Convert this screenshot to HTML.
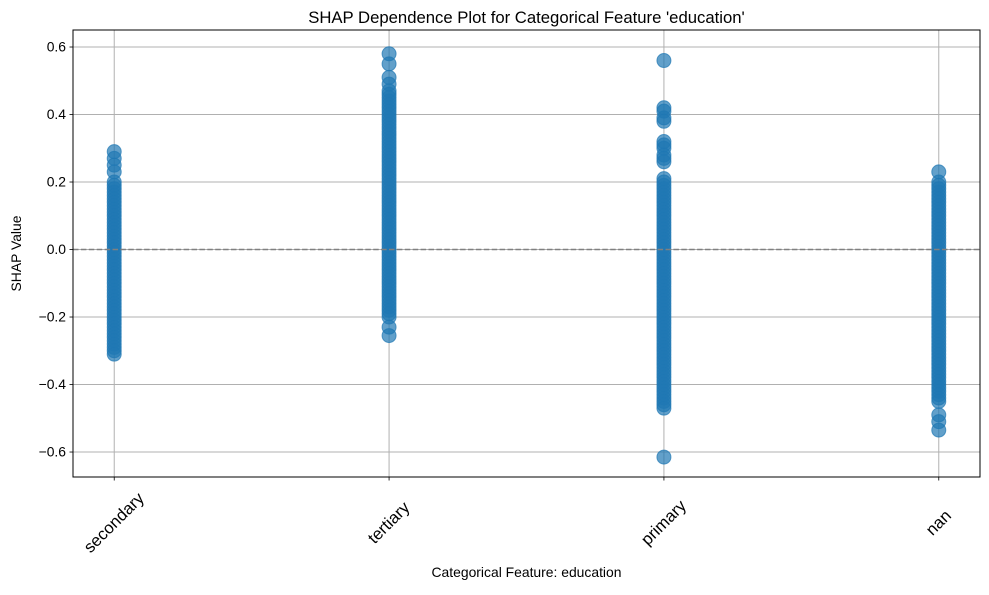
<!DOCTYPE html>
<html><head><meta charset="utf-8"><style>
body{margin:0;background:#fff;}
svg text{font-family:"Liberation Sans","DejaVu Sans",sans-serif;fill:#000;}
</style></head><body>
<svg id="chart" width="989" height="590"></svg>
<script>
const categories = ["secondary","tertiary","primary","nan"];
const secondaryVals = [0.29,0.27,0.25,0.23,0.2,0.19,0.18,0.17,0.16,0.15,0.14,0.13,0.12,0.11,0.1,0.09,0.08,0.07,0.06,0.05,0.04,0.03,0.02,0.01,0,-0.01,-0.02,-0.03,-0.04,-0.05,-0.06,-0.07,-0.08,-0.09,-0.1,-0.11,-0.12,-0.13,-0.14,-0.15,-0.16,-0.17,-0.18,-0.19,-0.2,-0.21,-0.22,-0.23,-0.24,-0.25,-0.26,-0.27,-0.28,-0.29,-0.3,-0.31];
const tertiaryVals = [0.58,0.55,0.51,0.49,0.47,0.46,0.45,0.44,0.43,0.42,0.41,0.4,0.39,0.38,0.37,0.36,0.35,0.34,0.33,0.32,0.31,0.3,0.29,0.28,0.27,0.26,0.25,0.24,0.23,0.22,0.21,0.2,0.19,0.18,0.17,0.16,0.15,0.14,0.13,0.12,0.11,0.1,0.09,0.08,0.07,0.06,0.05,0.04,0.03,0.02,0.01,0,-0.01,-0.02,-0.03,-0.04,-0.05,-0.06,-0.07,-0.08,-0.09,-0.1,-0.11,-0.12,-0.13,-0.14,-0.15,-0.16,-0.17,-0.18,-0.19,-0.2,-0.23,-0.255];
const primaryVals = [0.56,0.42,0.41,0.39,0.38,0.32,0.31,0.3,0.28,0.27,0.26,0.21,0.2,0.19,0.18,0.17,0.16,0.15,0.14,0.13,0.12,0.11,0.1,0.09,0.08,0.07,0.06,0.05,0.04,0.03,0.02,0.01,0,-0.01,-0.02,-0.03,-0.04,-0.05,-0.06,-0.07,-0.08,-0.09,-0.1,-0.11,-0.12,-0.13,-0.14,-0.15,-0.16,-0.17,-0.18,-0.19,-0.2,-0.21,-0.22,-0.23,-0.24,-0.25,-0.26,-0.27,-0.28,-0.29,-0.3,-0.31,-0.32,-0.33,-0.34,-0.35,-0.36,-0.37,-0.38,-0.39,-0.4,-0.41,-0.42,-0.43,-0.44,-0.45,-0.46,-0.47,-0.615];
const nanVals = [0.23,0.2,0.19,0.18,0.17,0.16,0.15,0.14,0.13,0.12,0.11,0.1,0.09,0.08,0.07,0.06,0.05,0.04,0.03,0.02,0.01,0,-0.01,-0.02,-0.03,-0.04,-0.05,-0.06,-0.07,-0.08,-0.09,-0.1,-0.11,-0.12,-0.13,-0.14,-0.15,-0.16,-0.17,-0.18,-0.19,-0.2,-0.21,-0.22,-0.23,-0.24,-0.25,-0.26,-0.27,-0.28,-0.29,-0.3,-0.31,-0.32,-0.33,-0.34,-0.35,-0.36,-0.37,-0.38,-0.39,-0.4,-0.41,-0.42,-0.43,-0.44,-0.45,-0.49,-0.51,-0.535];
const seriesVals = [secondaryVals,tertiaryVals,primaryVals,nanVals];
const yTicks = [-0.6,-0.4,-0.2,0.0,0.2,0.4,0.6];
const yTickLabels = ["\u22120.6","\u22120.4","\u22120.2","0.0","0.2","0.4","0.6"];

const NS="http://www.w3.org/2000/svg";
const svg=document.getElementById('chart');
const L=73,R=980,T=30,B=477;
const xMin=-0.15,xMax=3.15,yMin=-0.674,yMax=0.6504;
const xS=v=>L+(v-xMin)/(xMax-xMin)*(R-L);
const yS=v=>B-(v-yMin)/(yMax-yMin)*(B-T);
function mk(tag,attrs,parent){const e=document.createElementNS(NS,tag);for(const k in attrs)e.setAttribute(k,attrs[k]);(parent||svg).appendChild(e);return e;}

const grid=mk('g',{});


categories.forEach((c,i)=>{mk('line',{x1:xS(i),x2:xS(i),y1:T,y2:B,stroke:'#b0b0b0','stroke-width':1},grid);});
yTicks.forEach(v=>{mk('line',{x1:L,x2:R,y1:yS(v),y2:yS(v),stroke:'#b0b0b0','stroke-width':1},grid);});

const pts=mk('g',{});


seriesVals.forEach((vals,i)=>{vals.forEach(v=>{
  const c=mk('circle',{cx:xS(i),cy:yS(v),r:7,fill:'#1f77b4','fill-opacity':0.7,stroke:'#1f77b4','stroke-opacity':0.7,'stroke-width':1},pts);
  
  
});});

const zl=mk('line',{x1:L,x2:R,y1:yS(0),y2:yS(0),stroke:'#808080','stroke-width':1.5,'stroke-dasharray':'5.5,2.4'});



const frame=mk('rect',{x:L,y:T,width:R-L,height:B-T,fill:'none',stroke:'#000','stroke-width':1});



yTicks.forEach((v,i)=>{
  mk('line',{x1:L-3.5,x2:L,y1:yS(v),y2:yS(v),stroke:'#000','stroke-width':0.8});
  const t=mk('text',{x:L-7,y:yS(v)+4.5,'text-anchor':'end','font-size':13.9});
  t.textContent=yTickLabels[i];
  
  
});
categories.forEach((c,i)=>{
  mk('line',{x1:xS(i),x2:xS(i),y1:B,y2:B+3.5,stroke:'#000','stroke-width':0.8});
  const cx=xS(i),cy=523;
  const t=mk('text',{x:cx,y:cy+5,'text-anchor':'middle','font-size':16.7,transform:`rotate(-45 ${cx} ${cy})`});
  t.textContent=c;
  
  
});
const title=mk('text',{x:(L+R)/2,y:23,'text-anchor':'middle','font-size':16.7});
title.textContent="SHAP Dependence Plot for Categorical Feature 'education'";


const xl=mk('text',{x:(L+R)/2,y:577,'text-anchor':'middle','font-size':13.9});
xl.textContent="Categorical Feature: education";


const yl=mk('text',{x:21,y:(T+B)/2,'text-anchor':'middle','font-size':13.9,transform:`rotate(-90 21 ${(T+B)/2})`});
yl.textContent="SHAP Value";


</script>
</body></html>
